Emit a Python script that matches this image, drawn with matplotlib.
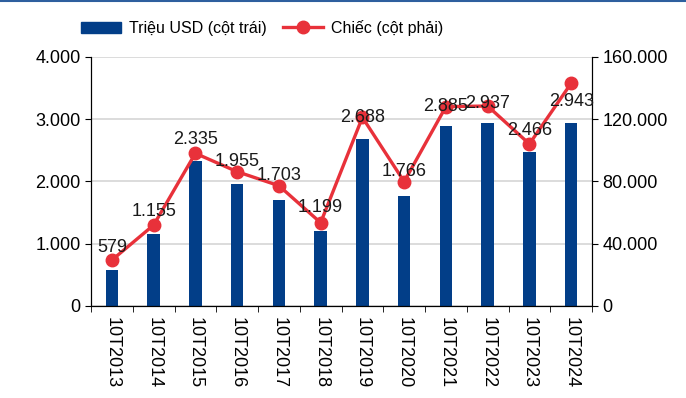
import matplotlib.pyplot as plt
from matplotlib.ticker import FuncFormatter, MultipleLocator
from matplotlib.lines import Line2D
import numpy as np

plt.rcParams['font.family'] = ['Liberation Sans', 'DejaVu Sans']

# kim ngạch (triệu USD) và số chiếc, 10 tháng mỗi năm
periods = ['10T2013', '10T2014', '10T2015', '10T2016', '10T2017', '10T2018',
           '10T2019', '10T2020', '10T2021', '10T2022', '10T2023', '10T2024']
usd_mn = [579, 1155, 2335, 1955, 1703, 1199, 2688, 1766, 2885, 2937, 2466, 2943]
units = [29500, 52000, 98100, 86300, 77300, 53500,
         121200, 79900, 128100, 128500, 104100, 143100]

# vertical nudge (points) for each data label
label_dy = [9, 10, 10, 7, 7, 11, 0, 7, 0, 2, 10, -13]

bar_color = '#023E88'
line_color = '#E8313A'

def dot_thousands(v, pos=None):
    return f'{int(round(v)):,}'.replace(',', '.')

fig = plt.figure(figsize=(6.86, 3.98), dpi=100)
ax1 = fig.add_axes([0.1327, 0.2312, 0.7303, 0.6256])
ax2 = ax1.twinx()

x = np.arange(len(periods))
ax1.bar(x, usd_mn, width=0.3, color=bar_color, zorder=2)
ax2.plot(x, units, color=line_color, lw=2.4, marker='o', ms=9, zorder=3)

# labels show the USD value but sit on the line points
for i, v in enumerate(usd_mn):
    ax2.annotate(dot_thousands(v), (x[i], units[i]), xytext=(0, label_dy[i]),
                 textcoords='offset points', ha='center', va='center',
                 fontsize=13, color='#1a1a1a', zorder=4)

ax1.set_xlim(-0.5, len(periods) - 0.5)
ax1.set_ylim(0, 4000)
ax2.set_ylim(0, 160000)
ax1.yaxis.set_major_locator(MultipleLocator(1000))
ax2.yaxis.set_major_locator(MultipleLocator(40000))
ax1.yaxis.set_major_formatter(FuncFormatter(dot_thousands))
ax2.yaxis.set_major_formatter(FuncFormatter(dot_thousands))

ax1.set_xticks(x)
ax1.set_xticklabels(periods, rotation=270, fontsize=13)
ax1.set_xticks(np.arange(-0.5, len(periods)), minor=True)
ax1.tick_params(axis='x', which='major', length=0, pad=8)
ax1.tick_params(axis='x', which='minor', length=4, direction='out')
ax1.tick_params(axis='y', labelsize=13, length=4)
ax2.tick_params(axis='y', labelsize=13, length=4)

ax1.grid(axis='y', color='#D9D9D9', lw=1.3, zorder=0)
ax1.set_axisbelow(True)
for ax in (ax1, ax2):
    ax.spines['top'].set_visible(False)
ax1.set_zorder(ax2.get_zorder() - 1)
ax2.patch.set_visible(False)

handles = [plt.Rectangle((0, 0), 1, 1, color=bar_color),
           Line2D([], [], color=line_color, lw=2.4, marker='o', ms=9)]
fig.legend(handles, ['Triệu USD (cột trái)', 'Chiếc (cột phải)'],
           loc='center', bbox_to_anchor=(0.382, 0.93), ncol=2, frameon=False,
           fontsize=11.5, handlelength=2.5, columnspacing=1.0, handletextpad=0.5)

# thin blue rule along the top edge
fig.add_artist(Line2D([0, 1], [0.997, 0.997], color='#2E5F9E', lw=1.5,
                      transform=fig.transFigure))

fig.savefig('out.png', dpi=100)
